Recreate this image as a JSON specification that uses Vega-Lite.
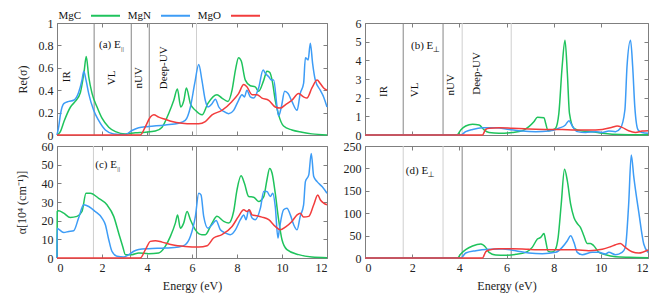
{
  "$schema": "https://vega.github.io/schema/vega-lite/v6.json",
  "padding": {"left": 14, "top": 0, "right": 2, "bottom": 2},
  "background": "white",
  "datasets": {
    "curves": [
      {"p":"a","m":"MgC","E":0,"v":0},{"p":"a","m":"MgC","E":0.15,"v":0.03},{"p":"a","m":"MgC","E":0.31,"v":0.12},{"p":"a","m":"MgC","E":0.6,"v":0.25},{"p":"a","m":"MgC","E":0.81,"v":0.3},{"p":"a","m":"MgC","E":1.04,"v":0.38},{"p":"a","m":"MgC","E":1.2,"v":0.56},{"p":"a","m":"MgC","E":1.3,"v":0.7},{"p":"a","m":"MgC","E":1.41,"v":0.52},{"p":"a","m":"MgC","E":1.56,"v":0.37},{"p":"a","m":"MgC","E":1.78,"v":0.25},{"p":"a","m":"MgC","E":2.0,"v":0.15},{"p":"a","m":"MgC","E":2.3,"v":0.07},{"p":"a","m":"MgC","E":2.6,"v":0.03},{"p":"a","m":"MgC","E":3.04,"v":0.01},{"p":"a","m":"MgC","E":3.48,"v":0.02},{"p":"a","m":"MgC","E":3.93,"v":0.025},{"p":"a","m":"MgC","E":4.37,"v":0.035},{"p":"a","m":"MgC","E":4.67,"v":0.07},{"p":"a","m":"MgC","E":4.96,"v":0.19},{"p":"a","m":"MgC","E":5.19,"v":0.31},{"p":"a","m":"MgC","E":5.35,"v":0.41},{"p":"a","m":"MgC","E":5.5,"v":0.25},{"p":"a","m":"MgC","E":5.64,"v":0.31},{"p":"a","m":"MgC","E":5.75,"v":0.42},{"p":"a","m":"MgC","E":5.93,"v":0.28},{"p":"a","m":"MgC","E":6.15,"v":0.22},{"p":"a","m":"MgC","E":6.45,"v":0.18},{"p":"a","m":"MgC","E":6.7,"v":0.28},{"p":"a","m":"MgC","E":7.11,"v":0.36},{"p":"a","m":"MgC","E":7.33,"v":0.33},{"p":"a","m":"MgC","E":7.6,"v":0.3},{"p":"a","m":"MgC","E":7.78,"v":0.4},{"p":"a","m":"MgC","E":7.93,"v":0.58},{"p":"a","m":"MgC","E":8.07,"v":0.69},{"p":"a","m":"MgC","E":8.19,"v":0.66},{"p":"a","m":"MgC","E":8.37,"v":0.49},{"p":"a","m":"MgC","E":8.59,"v":0.44},{"p":"a","m":"MgC","E":8.81,"v":0.43},{"p":"a","m":"MgC","E":8.96,"v":0.39},{"p":"a","m":"MgC","E":9.19,"v":0.49},{"p":"a","m":"MgC","E":9.33,"v":0.57},{"p":"a","m":"MgC","E":9.45,"v":0.56},{"p":"a","m":"MgC","E":9.56,"v":0.49},{"p":"a","m":"MgC","E":9.7,"v":0.31},{"p":"a","m":"MgC","E":9.85,"v":0.18},{"p":"a","m":"MgC","E":10.07,"v":0.08},{"p":"a","m":"MgC","E":10.44,"v":0.045},{"p":"a","m":"MgC","E":10.89,"v":0.025},{"p":"a","m":"MgC","E":11.33,"v":0.01},{"p":"a","m":"MgC","E":12,"v":0.0},
      {"p":"a","m":"MgN","E":0,"v":0},{"p":"a","m":"MgN","E":0.08,"v":0.08},{"p":"a","m":"MgN","E":0.15,"v":0.18},{"p":"a","m":"MgN","E":0.3,"v":0.28},{"p":"a","m":"MgN","E":0.52,"v":0.3},{"p":"a","m":"MgN","E":0.74,"v":0.31},{"p":"a","m":"MgN","E":0.96,"v":0.38},{"p":"a","m":"MgN","E":1.11,"v":0.49},{"p":"a","m":"MgN","E":1.19,"v":0.57},{"p":"a","m":"MgN","E":1.29,"v":0.49},{"p":"a","m":"MgN","E":1.41,"v":0.37},{"p":"a","m":"MgN","E":1.63,"v":0.22},{"p":"a","m":"MgN","E":1.85,"v":0.13},{"p":"a","m":"MgN","E":2.15,"v":0.045},{"p":"a","m":"MgN","E":2.52,"v":0.01},{"p":"a","m":"MgN","E":3.04,"v":0.005},{"p":"a","m":"MgN","E":3.33,"v":0.04},{"p":"a","m":"MgN","E":3.63,"v":0.065},{"p":"a","m":"MgN","E":4.07,"v":0.075},{"p":"a","m":"MgN","E":4.81,"v":0.09},{"p":"a","m":"MgN","E":5.41,"v":0.105},{"p":"a","m":"MgN","E":5.7,"v":0.13},{"p":"a","m":"MgN","E":5.93,"v":0.25},{"p":"a","m":"MgN","E":6.12,"v":0.46},{"p":"a","m":"MgN","E":6.3,"v":0.63},{"p":"a","m":"MgN","E":6.44,"v":0.49},{"p":"a","m":"MgN","E":6.59,"v":0.31},{"p":"a","m":"MgN","E":6.71,"v":0.25},{"p":"a","m":"MgN","E":6.89,"v":0.28},{"p":"a","m":"MgN","E":7.04,"v":0.32},{"p":"a","m":"MgN","E":7.19,"v":0.25},{"p":"a","m":"MgN","E":7.41,"v":0.21},{"p":"a","m":"MgN","E":7.63,"v":0.19},{"p":"a","m":"MgN","E":7.85,"v":0.22},{"p":"a","m":"MgN","E":8.07,"v":0.31},{"p":"a","m":"MgN","E":8.22,"v":0.36},{"p":"a","m":"MgN","E":8.33,"v":0.34},{"p":"a","m":"MgN","E":8.44,"v":0.4},{"p":"a","m":"MgN","E":8.59,"v":0.34},{"p":"a","m":"MgN","E":8.74,"v":0.33},{"p":"a","m":"MgN","E":8.96,"v":0.42},{"p":"a","m":"MgN","E":9.16,"v":0.58},{"p":"a","m":"MgN","E":9.26,"v":0.55},{"p":"a","m":"MgN","E":9.41,"v":0.52},{"p":"a","m":"MgN","E":9.53,"v":0.49},{"p":"a","m":"MgN","E":9.63,"v":0.49},{"p":"a","m":"MgN","E":9.78,"v":0.25},{"p":"a","m":"MgN","E":9.85,"v":0.17},{"p":"a","m":"MgN","E":9.97,"v":0.25},{"p":"a","m":"MgN","E":10.12,"v":0.39},{"p":"a","m":"MgN","E":10.27,"v":0.37},{"p":"a","m":"MgN","E":10.44,"v":0.3},{"p":"a","m":"MgN","E":10.67,"v":0.22},{"p":"a","m":"MgN","E":10.81,"v":0.37},{"p":"a","m":"MgN","E":10.96,"v":0.46},{"p":"a","m":"MgN","E":11.04,"v":0.69},{"p":"a","m":"MgN","E":11.16,"v":0.67},{"p":"a","m":"MgN","E":11.26,"v":0.82},{"p":"a","m":"MgN","E":11.36,"v":0.64},{"p":"a","m":"MgN","E":11.48,"v":0.49},{"p":"a","m":"MgN","E":11.7,"v":0.4},{"p":"a","m":"MgN","E":11.85,"v":0.34},{"p":"a","m":"MgN","E":12,"v":0.25},
      {"p":"a","m":"MgO","E":0,"v":0},{"p":"a","m":"MgO","E":3.7,"v":0},{"p":"a","m":"MgO","E":3.93,"v":0.075},{"p":"a","m":"MgO","E":4.15,"v":0.16},{"p":"a","m":"MgO","E":4.3,"v":0.18},{"p":"a","m":"MgO","E":4.52,"v":0.16},{"p":"a","m":"MgO","E":4.81,"v":0.14},{"p":"a","m":"MgO","E":5.11,"v":0.12},{"p":"a","m":"MgO","E":5.56,"v":0.105},{"p":"a","m":"MgO","E":6.0,"v":0.1},{"p":"a","m":"MgO","E":6.3,"v":0.1},{"p":"a","m":"MgO","E":6.59,"v":0.12},{"p":"a","m":"MgO","E":6.89,"v":0.18},{"p":"a","m":"MgO","E":7.33,"v":0.22},{"p":"a","m":"MgO","E":7.78,"v":0.3},{"p":"a","m":"MgO","E":8.07,"v":0.37},{"p":"a","m":"MgO","E":8.3,"v":0.45},{"p":"a","m":"MgO","E":8.44,"v":0.43},{"p":"a","m":"MgO","E":8.67,"v":0.36},{"p":"a","m":"MgO","E":8.89,"v":0.36},{"p":"a","m":"MgO","E":9.11,"v":0.33},{"p":"a","m":"MgO","E":9.41,"v":0.31},{"p":"a","m":"MgO","E":9.7,"v":0.25},{"p":"a","m":"MgO","E":9.93,"v":0.24},{"p":"a","m":"MgO","E":10.15,"v":0.27},{"p":"a","m":"MgO","E":10.44,"v":0.31},{"p":"a","m":"MgO","E":10.74,"v":0.37},{"p":"a","m":"MgO","E":10.96,"v":0.34},{"p":"a","m":"MgO","E":11.11,"v":0.33},{"p":"a","m":"MgO","E":11.33,"v":0.42},{"p":"a","m":"MgO","E":11.56,"v":0.49},{"p":"a","m":"MgO","E":11.7,"v":0.46},{"p":"a","m":"MgO","E":11.85,"v":0.42},{"p":"a","m":"MgO","E":12,"v":0.4},

      {"p":"b","m":"MgC","E":0,"v":0},{"p":"b","m":"MgC","E":3.9,"v":0},{"p":"b","m":"MgC","E":4.06,"v":0.27},{"p":"b","m":"MgC","E":4.27,"v":0.48},{"p":"b","m":"MgC","E":4.56,"v":0.57},{"p":"b","m":"MgC","E":4.84,"v":0.54},{"p":"b","m":"MgC","E":5.05,"v":0.27},{"p":"b","m":"MgC","E":5.26,"v":0.13},{"p":"b","m":"MgC","E":5.68,"v":0.09},{"p":"b","m":"MgC","E":6.25,"v":0.14},{"p":"b","m":"MgC","E":6.67,"v":0.23},{"p":"b","m":"MgC","E":6.95,"v":0.45},{"p":"b","m":"MgC","E":7.17,"v":0.72},{"p":"b","m":"MgC","E":7.31,"v":0.95},{"p":"b","m":"MgC","E":7.59,"v":0.93},{"p":"b","m":"MgC","E":7.66,"v":0.63},{"p":"b","m":"MgC","E":7.76,"v":0.23},{"p":"b","m":"MgC","E":7.94,"v":0.27},{"p":"b","m":"MgC","E":8.08,"v":0.36},{"p":"b","m":"MgC","E":8.22,"v":1.16},{"p":"b","m":"MgC","E":8.36,"v":3.67},{"p":"b","m":"MgC","E":8.48,"v":5.07},{"p":"b","m":"MgC","E":8.58,"v":3.31},{"p":"b","m":"MgC","E":8.67,"v":1.16},{"p":"b","m":"MgC","E":8.86,"v":0.36},{"p":"b","m":"MgC","E":9.21,"v":0.21},{"p":"b","m":"MgC","E":9.63,"v":0.18},{"p":"b","m":"MgC","E":10.06,"v":0.09},{"p":"b","m":"MgC","E":10.48,"v":0.04},{"p":"b","m":"MgC","E":11.18,"v":0.02},{"p":"b","m":"MgC","E":12,"v":0.02},
      {"p":"b","m":"MgN","E":0,"v":0},{"p":"b","m":"MgN","E":4.06,"v":0},{"p":"b","m":"MgN","E":4.27,"v":0.18},{"p":"b","m":"MgN","E":4.56,"v":0.3},{"p":"b","m":"MgN","E":4.98,"v":0.39},{"p":"b","m":"MgN","E":5.54,"v":0.39},{"p":"b","m":"MgN","E":6.11,"v":0.3},{"p":"b","m":"MgN","E":6.67,"v":0.21},{"p":"b","m":"MgN","E":7.24,"v":0.18},{"p":"b","m":"MgN","E":7.8,"v":0.21},{"p":"b","m":"MgN","E":8.22,"v":0.36},{"p":"b","m":"MgN","E":8.5,"v":0.54},{"p":"b","m":"MgN","E":8.65,"v":0.77},{"p":"b","m":"MgN","E":8.79,"v":0.48},{"p":"b","m":"MgN","E":9.0,"v":0.18},{"p":"b","m":"MgN","E":9.35,"v":0.13},{"p":"b","m":"MgN","E":9.77,"v":0.18},{"p":"b","m":"MgN","E":10.06,"v":0.13},{"p":"b","m":"MgN","E":10.34,"v":0.21},{"p":"b","m":"MgN","E":10.62,"v":0.18},{"p":"b","m":"MgN","E":10.83,"v":0.36},{"p":"b","m":"MgN","E":11.02,"v":1.34},{"p":"b","m":"MgN","E":11.11,"v":3.67},{"p":"b","m":"MgN","E":11.26,"v":5.07},{"p":"b","m":"MgN","E":11.35,"v":3.67},{"p":"b","m":"MgN","E":11.44,"v":1.52},{"p":"b","m":"MgN","E":11.58,"v":0.27},{"p":"b","m":"MgN","E":11.75,"v":0.13},{"p":"b","m":"MgN","E":12,"v":0.09},
      {"p":"b","m":"MgO","E":0,"v":0},{"p":"b","m":"MgO","E":4.98,"v":0},{"p":"b","m":"MgO","E":5.12,"v":0.3},{"p":"b","m":"MgO","E":5.26,"v":0.36},{"p":"b","m":"MgO","E":5.68,"v":0.39},{"p":"b","m":"MgO","E":6.25,"v":0.36},{"p":"b","m":"MgO","E":6.95,"v":0.32},{"p":"b","m":"MgO","E":7.66,"v":0.3},{"p":"b","m":"MgO","E":8.36,"v":0.29},{"p":"b","m":"MgO","E":8.93,"v":0.27},{"p":"b","m":"MgO","E":9.49,"v":0.27},{"p":"b","m":"MgO","E":10.06,"v":0.3},{"p":"b","m":"MgO","E":10.48,"v":0.41},{"p":"b","m":"MgO","E":10.69,"v":0.48},{"p":"b","m":"MgO","E":10.9,"v":0.41},{"p":"b","m":"MgO","E":11.18,"v":0.23},{"p":"b","m":"MgO","E":11.47,"v":0.14},{"p":"b","m":"MgO","E":11.75,"v":0.21},{"p":"b","m":"MgO","E":12,"v":0.23},

      {"p":"c","m":"MgC","E":0,"v":0},{"p":"c","m":"MgC","E":0.01,"v":24.9},{"p":"c","m":"MgC","E":0.07,"v":25.3},{"p":"c","m":"MgC","E":0.3,"v":24},{"p":"c","m":"MgC","E":0.59,"v":21.7},{"p":"c","m":"MgC","E":0.89,"v":22.3},{"p":"c","m":"MgC","E":1.11,"v":24.9},{"p":"c","m":"MgC","E":1.29,"v":34.7},{"p":"c","m":"MgC","E":1.48,"v":34.7},{"p":"c","m":"MgC","E":1.85,"v":32},{"p":"c","m":"MgC","E":2.22,"v":28.5},{"p":"c","m":"MgC","E":2.52,"v":22.3},{"p":"c","m":"MgC","E":2.74,"v":13.4},{"p":"c","m":"MgC","E":2.92,"v":6.2},{"p":"c","m":"MgC","E":3.04,"v":1.8},{"p":"c","m":"MgC","E":3.33,"v":1.8},{"p":"c","m":"MgC","E":3.63,"v":2.7},{"p":"c","m":"MgC","E":4.07,"v":2.3},{"p":"c","m":"MgC","E":4.52,"v":2.7},{"p":"c","m":"MgC","E":4.81,"v":6.2},{"p":"c","m":"MgC","E":5.04,"v":11.6},{"p":"c","m":"MgC","E":5.26,"v":18.7},{"p":"c","m":"MgC","E":5.36,"v":23.1},{"p":"c","m":"MgC","E":5.48,"v":16},{"p":"c","m":"MgC","E":5.63,"v":18.7},{"p":"c","m":"MgC","E":5.78,"v":24.9},{"p":"c","m":"MgC","E":5.93,"v":20.5},{"p":"c","m":"MgC","E":6.15,"v":15.1},{"p":"c","m":"MgC","E":6.44,"v":12.5},{"p":"c","m":"MgC","E":6.59,"v":12.5},{"p":"c","m":"MgC","E":6.89,"v":18.7},{"p":"c","m":"MgC","E":7.11,"v":22.3},{"p":"c","m":"MgC","E":7.41,"v":19.6},{"p":"c","m":"MgC","E":7.63,"v":18.7},{"p":"c","m":"MgC","E":7.85,"v":24.9},{"p":"c","m":"MgC","E":8.0,"v":36.5},{"p":"c","m":"MgC","E":8.18,"v":44},{"p":"c","m":"MgC","E":8.33,"v":40},{"p":"c","m":"MgC","E":8.52,"v":32.9},{"p":"c","m":"MgC","E":8.74,"v":32.6},{"p":"c","m":"MgC","E":8.96,"v":30.3},{"p":"c","m":"MgC","E":9.19,"v":32.9},{"p":"c","m":"MgC","E":9.33,"v":41.8},{"p":"c","m":"MgC","E":9.45,"v":48},{"p":"c","m":"MgC","E":9.56,"v":45.4},{"p":"c","m":"MgC","E":9.7,"v":34.7},{"p":"c","m":"MgC","E":9.85,"v":20.5},{"p":"c","m":"MgC","E":10.0,"v":9.8},{"p":"c","m":"MgC","E":10.22,"v":4.5},{"p":"c","m":"MgC","E":10.74,"v":1.8},{"p":"c","m":"MgC","E":11.33,"v":0.5},{"p":"c","m":"MgC","E":12,"v":0.2},
      {"p":"c","m":"MgN","E":0,"v":0},{"p":"c","m":"MgN","E":0.01,"v":16},{"p":"c","m":"MgN","E":0.07,"v":15.5},{"p":"c","m":"MgN","E":0.3,"v":13.7},{"p":"c","m":"MgN","E":0.52,"v":14.2},{"p":"c","m":"MgN","E":0.74,"v":14.6},{"p":"c","m":"MgN","E":0.96,"v":21.4},{"p":"c","m":"MgN","E":1.19,"v":28.5},{"p":"c","m":"MgN","E":1.41,"v":27.6},{"p":"c","m":"MgN","E":1.7,"v":24.9},{"p":"c","m":"MgN","E":2.0,"v":21.4},{"p":"c","m":"MgN","E":2.15,"v":17.8},{"p":"c","m":"MgN","E":2.3,"v":9.8},{"p":"c","m":"MgN","E":2.44,"v":3.6},{"p":"c","m":"MgN","E":2.67,"v":0.9},{"p":"c","m":"MgN","E":2.96,"v":0.5},{"p":"c","m":"MgN","E":3.19,"v":1.8},{"p":"c","m":"MgN","E":3.41,"v":3.6},{"p":"c","m":"MgN","E":3.63,"v":4.5},{"p":"c","m":"MgN","E":4.07,"v":5.0},{"p":"c","m":"MgN","E":4.81,"v":5.3},{"p":"c","m":"MgN","E":5.41,"v":5.9},{"p":"c","m":"MgN","E":5.7,"v":7.1},{"p":"c","m":"MgN","E":5.93,"v":11.6},{"p":"c","m":"MgN","E":6.15,"v":22.3},{"p":"c","m":"MgN","E":6.3,"v":34.7},{"p":"c","m":"MgN","E":6.4,"v":33.8},{"p":"c","m":"MgN","E":6.52,"v":22.3},{"p":"c","m":"MgN","E":6.71,"v":16},{"p":"c","m":"MgN","E":6.89,"v":17.8},{"p":"c","m":"MgN","E":7.07,"v":20.1},{"p":"c","m":"MgN","E":7.26,"v":15.1},{"p":"c","m":"MgN","E":7.48,"v":13.4},{"p":"c","m":"MgN","E":7.7,"v":12.5},{"p":"c","m":"MgN","E":7.93,"v":15.1},{"p":"c","m":"MgN","E":8.15,"v":20.5},{"p":"c","m":"MgN","E":8.3,"v":23.1},{"p":"c","m":"MgN","E":8.4,"v":20.5},{"p":"c","m":"MgN","E":8.52,"v":25.8},{"p":"c","m":"MgN","E":8.67,"v":21.4},{"p":"c","m":"MgN","E":8.81,"v":20.5},{"p":"c","m":"MgN","E":9.04,"v":26.7},{"p":"c","m":"MgN","E":9.19,"v":35.6},{"p":"c","m":"MgN","E":9.33,"v":35.6},{"p":"c","m":"MgN","E":9.48,"v":32.9},{"p":"c","m":"MgN","E":9.59,"v":34.7},{"p":"c","m":"MgN","E":9.7,"v":27.6},{"p":"c","m":"MgN","E":9.82,"v":10.7},{"p":"c","m":"MgN","E":9.89,"v":16},{"p":"c","m":"MgN","E":10.07,"v":25.8},{"p":"c","m":"MgN","E":10.22,"v":26.7},{"p":"c","m":"MgN","E":10.37,"v":23.1},{"p":"c","m":"MgN","E":10.52,"v":17.8},{"p":"c","m":"MgN","E":10.67,"v":15.1},{"p":"c","m":"MgN","E":10.81,"v":22.3},{"p":"c","m":"MgN","E":10.96,"v":28.5},{"p":"c","m":"MgN","E":11.04,"v":40.9},{"p":"c","m":"MgN","E":11.19,"v":44.5},{"p":"c","m":"MgN","E":11.3,"v":56},{"p":"c","m":"MgN","E":11.41,"v":43.6},{"p":"c","m":"MgN","E":11.56,"v":40.9},{"p":"c","m":"MgN","E":11.78,"v":38.3},{"p":"c","m":"MgN","E":12,"v":34.7},
      {"p":"c","m":"MgO","E":0,"v":0},{"p":"c","m":"MgO","E":3.7,"v":0},{"p":"c","m":"MgO","E":3.93,"v":4.5},{"p":"c","m":"MgO","E":4.15,"v":8.9},{"p":"c","m":"MgO","E":4.37,"v":9.3},{"p":"c","m":"MgO","E":4.67,"v":8.5},{"p":"c","m":"MgO","E":5.11,"v":7.1},{"p":"c","m":"MgO","E":5.7,"v":6.2},{"p":"c","m":"MgO","E":6.3,"v":5.9},{"p":"c","m":"MgO","E":6.67,"v":6.6},{"p":"c","m":"MgO","E":6.96,"v":10.7},{"p":"c","m":"MgO","E":7.33,"v":12.5},{"p":"c","m":"MgO","E":7.78,"v":16.9},{"p":"c","m":"MgO","E":8.07,"v":22.3},{"p":"c","m":"MgO","E":8.3,"v":25.8},{"p":"c","m":"MgO","E":8.44,"v":24.9},{"p":"c","m":"MgO","E":8.55,"v":25.8},{"p":"c","m":"MgO","E":8.67,"v":23.1},{"p":"c","m":"MgO","E":8.89,"v":22.6},{"p":"c","m":"MgO","E":9.11,"v":21.9},{"p":"c","m":"MgO","E":9.41,"v":20.5},{"p":"c","m":"MgO","E":9.7,"v":16.9},{"p":"c","m":"MgO","E":9.93,"v":15.1},{"p":"c","m":"MgO","E":10.15,"v":16.6},{"p":"c","m":"MgO","E":10.44,"v":19.6},{"p":"c","m":"MgO","E":10.67,"v":23.1},{"p":"c","m":"MgO","E":10.81,"v":24},{"p":"c","m":"MgO","E":10.96,"v":21.9},{"p":"c","m":"MgO","E":11.19,"v":22.3},{"p":"c","m":"MgO","E":11.41,"v":28.5},{"p":"c","m":"MgO","E":11.59,"v":33.8},{"p":"c","m":"MgO","E":11.7,"v":31.2},{"p":"c","m":"MgO","E":11.85,"v":29.4},{"p":"c","m":"MgO","E":12,"v":28.5},

      {"p":"d","m":"MgC","E":0,"v":0},{"p":"d","m":"MgC","E":3.92,"v":0},{"p":"d","m":"MgC","E":4.06,"v":8.9},{"p":"d","m":"MgC","E":4.27,"v":18.5},{"p":"d","m":"MgC","E":4.56,"v":26.7},{"p":"d","m":"MgC","E":4.91,"v":31.2},{"p":"d","m":"MgC","E":5.12,"v":23.7},{"p":"d","m":"MgC","E":5.26,"v":12.6},{"p":"d","m":"MgC","E":5.54,"v":6.7},{"p":"d","m":"MgC","E":5.97,"v":5.9},{"p":"d","m":"MgC","E":6.39,"v":8.2},{"p":"d","m":"MgC","E":6.81,"v":12.6},{"p":"d","m":"MgC","E":7.09,"v":23.7},{"p":"d","m":"MgC","E":7.31,"v":42.3},{"p":"d","m":"MgC","E":7.45,"v":46},{"p":"d","m":"MgC","E":7.59,"v":54.9},{"p":"d","m":"MgC","E":7.66,"v":38.6},{"p":"d","m":"MgC","E":7.77,"v":14.8},{"p":"d","m":"MgC","E":7.94,"v":13.4},{"p":"d","m":"MgC","E":8.08,"v":20},{"p":"d","m":"MgC","E":8.19,"v":46},{"p":"d","m":"MgC","E":8.32,"v":120},{"p":"d","m":"MgC","E":8.46,"v":198},{"p":"d","m":"MgC","E":8.58,"v":172},{"p":"d","m":"MgC","E":8.72,"v":120},{"p":"d","m":"MgC","E":8.86,"v":90.5},{"p":"d","m":"MgC","E":9.0,"v":77},{"p":"d","m":"MgC","E":9.14,"v":68},{"p":"d","m":"MgC","E":9.28,"v":49.7},{"p":"d","m":"MgC","E":9.42,"v":32.6},{"p":"d","m":"MgC","E":9.56,"v":32.6},{"p":"d","m":"MgC","E":9.7,"v":27.4},{"p":"d","m":"MgC","E":9.92,"v":12.6},{"p":"d","m":"MgC","E":10.2,"v":7.4},{"p":"d","m":"MgC","E":10.62,"v":3},{"p":"d","m":"MgC","E":11.18,"v":1.5},{"p":"d","m":"MgC","E":12,"v":0.7},
      {"p":"d","m":"MgN","E":0,"v":0},{"p":"d","m":"MgN","E":4.06,"v":0},{"p":"d","m":"MgN","E":4.27,"v":11.1},{"p":"d","m":"MgN","E":4.7,"v":16.3},{"p":"d","m":"MgN","E":5.26,"v":19.3},{"p":"d","m":"MgN","E":5.82,"v":20},{"p":"d","m":"MgN","E":6.39,"v":16.3},{"p":"d","m":"MgN","E":6.95,"v":11.1},{"p":"d","m":"MgN","E":7.52,"v":9.6},{"p":"d","m":"MgN","E":8.08,"v":12.6},{"p":"d","m":"MgN","E":8.36,"v":23.7},{"p":"d","m":"MgN","E":8.58,"v":38.6},{"p":"d","m":"MgN","E":8.72,"v":49.7},{"p":"d","m":"MgN","E":8.86,"v":34.9},{"p":"d","m":"MgN","E":9.0,"v":12.6},{"p":"d","m":"MgN","E":9.21,"v":7.4},{"p":"d","m":"MgN","E":9.63,"v":12.6},{"p":"d","m":"MgN","E":9.92,"v":12.6},{"p":"d","m":"MgN","E":10.2,"v":8.9},{"p":"d","m":"MgN","E":10.34,"v":12.6},{"p":"d","m":"MgN","E":10.62,"v":7.4},{"p":"d","m":"MgN","E":10.9,"v":12.6},{"p":"d","m":"MgN","E":11.04,"v":23.7},{"p":"d","m":"MgN","E":11.18,"v":120},{"p":"d","m":"MgN","E":11.29,"v":230},{"p":"d","m":"MgN","E":11.4,"v":180},{"p":"d","m":"MgN","E":11.61,"v":101.7},{"p":"d","m":"MgN","E":11.82,"v":31.2},{"p":"d","m":"MgN","E":12,"v":12.6},
      {"p":"d","m":"MgO","E":0,"v":0},{"p":"d","m":"MgO","E":4.98,"v":0},{"p":"d","m":"MgO","E":5.12,"v":14},{"p":"d","m":"MgO","E":5.26,"v":17.8},{"p":"d","m":"MgO","E":5.68,"v":20.8},{"p":"d","m":"MgO","E":6.25,"v":20.8},{"p":"d","m":"MgO","E":6.95,"v":19.3},{"p":"d","m":"MgO","E":7.66,"v":18.5},{"p":"d","m":"MgO","E":8.36,"v":18.5},{"p":"d","m":"MgO","E":8.93,"v":18.5},{"p":"d","m":"MgO","E":9.49,"v":16.3},{"p":"d","m":"MgO","E":10.06,"v":19.3},{"p":"d","m":"MgO","E":10.41,"v":25.2},{"p":"d","m":"MgO","E":10.62,"v":29.7},{"p":"d","m":"MgO","E":10.83,"v":32.6},{"p":"d","m":"MgO","E":11.04,"v":23.7},{"p":"d","m":"MgO","E":11.32,"v":14},{"p":"d","m":"MgO","E":11.61,"v":11.1},{"p":"d","m":"MgO","E":12,"v":17.8}
    ],
    "vlines": [
      {"p":"a","E":1.65,"k":"dark"},{"p":"a","E":3.3,"k":"dark"},{"p":"a","E":4.1,"k":"dark"},{"p":"a","E":6.2,"k":"light"},
      {"p":"b","E":1.62,"k":"dark"},{"p":"b","E":3.31,"k":"dark"},{"p":"b","E":4.12,"k":"light"},{"p":"b","E":6.2,"k":"light"},
      {"p":"c","E":1.62,"k":"light"},{"p":"c","E":3.27,"k":"dark"},{"p":"c","E":6.2,"k":"dark"},
      {"p":"d","E":1.62,"k":"light"},{"p":"d","E":3.31,"k":"light"},{"p":"d","E":4.12,"k":"dark"},{"p":"d","E":6.2,"k":"dark"}
    ],
    "regions": [
      {"p":"a","t":"IR","E":0.46,"v":0.52},{"p":"a","t":"VL","E":2.44,"v":0.51},{"p":"a","t":"nUV","E":3.66,"v":0.51},{"p":"a","t":"Deep-UV","E":4.75,"v":0.6},
      {"p":"b","t":"IR","E":0.82,"v":2.33},{"p":"b","t":"VL","E":2.13,"v":2.42},{"p":"b","t":"nUV","E":3.64,"v":2.69},{"p":"b","t":"Deep-UV","E":4.77,"v":3.3}
    ],
    "plabels": [
      {"p":"a","t":"(a) E","s":"||","E":1.87,"v":0.8},
      {"p":"b","t":"(b) E","s":"⊥","E":1.95,"v":4.75},
      {"p":"c","t":"(c) E","s":"||","E":1.7,"v":49.8},
      {"p":"d","t":"(d) E","s":"⊥","E":1.73,"v":194}
    ]
  },
  "columns": 2,
  "bounds": "flush",
  "spacing": {"row": 11, "column": 38},
  "resolve": {"scale": {"color": "shared", "stroke": "shared", "x": "independent", "y": "independent"}},
  "concat": [
    {
      "width": 270, "height": 112,
      "resolve": {"axis": {"x": "independent", "y": "independent"}},
      "layer": [
        {"data": {"name": "vlines"}, "transform": [{"filter": "datum.p == 'a'"}], "mark": {"type": "rule", "strokeWidth": 1},
         "encoding": {"x": {"field": "E", "type": "quantitative", "scale": {"domain": [0, 12], "nice": false}, "axis": null},
                      "stroke": {"field": "k", "type": "nominal", "scale": {"domain": ["dark", "light"], "range": ["#858585", "#cfcfcf"]}, "legend": null}}},
        {"data": {"name": "curves"}, "transform": [{"filter": "datum.p == 'a'"}], "mark": {"type": "line", "strokeWidth": 1.5, "interpolate": "monotone"},
         "encoding": {"x": {"field": "E", "type": "quantitative", "scale": {"domain": [0, 12], "nice": false}, "axis": {"orient": "bottom", "values": [0,2,4,6,8,10,12], "labels": false, "title": null}},
                      "y": {"field": "v", "type": "quantitative", "scale": {"domain": [0, 1], "nice": false}, "axis": {"orient": "left", "values": [0,0.2,0.4,0.6,0.8,1], "format": "~g", "title": "Re(σ)", "titlePadding": 9}},
                      "color": {"field": "m", "type": "nominal", "scale": {"domain": ["MgC", "MgN", "MgO"], "range": ["#1fc35c", "#3d9cf6", "#f23c3c"]},
                                "legend": {"orient": "none", "legendX": 33, "legendY": -23, "direction": "horizontal", "title": null, "symbolType": "stroke", "symbolSize": 841, "symbolStrokeWidth": 2, "labelAlign": "right", "labelOffset": -40, "columnPadding": 3, "labelFontSize": 11, "labelFont": "Liberation Serif", "labelColor": "#111", "padding": 0}}}},
        {"data": {"name": "regions"}, "transform": [{"filter": "datum.p == 'a'"}], "mark": {"type": "text", "angle": 270, "align": "center", "baseline": "middle", "fontSize": 11, "font": "Liberation Serif", "color": "#111"},
         "encoding": {"x": {"field": "E", "type": "quantitative", "axis": null}, "y": {"field": "v", "type": "quantitative", "axis": null}, "text": {"field": "t"}}},
        {"data": {"name": "plabels"}, "transform": [{"filter": "datum.p == 'a'"}], "mark": {"type": "text", "align": "left", "baseline": "middle", "fontSize": 11, "font": "Liberation Serif", "color": "#111"},
         "encoding": {"x": {"field": "E", "type": "quantitative", "axis": {"orient": "top", "values": [0,2,4,6,8,10,12], "labels": false, "title": null}},
                      "y": {"field": "v", "type": "quantitative", "axis": {"orient": "right", "values": [0,0.2,0.4,0.6,0.8,1], "labels": false, "title": null}}, "text": {"field": "t"}}},
        {"data": {"name": "plabels"}, "transform": [{"filter": "datum.p == 'a'"}], "mark": {"type": "text", "align": "left", "baseline": "middle", "fontSize": 7, "font": "Liberation Serif", "color": "#111", "dx": 22, "dy": 4},
         "encoding": {"x": {"field": "E", "type": "quantitative", "axis": null}, "y": {"field": "v", "type": "quantitative", "axis": null}, "text": {"field": "s"}}}
      ]
    },
    {
      "width": 283, "height": 112,
      "resolve": {"axis": {"x": "independent", "y": "independent"}},
      "layer": [
        {"data": {"name": "vlines"}, "transform": [{"filter": "datum.p == 'b'"}], "mark": {"type": "rule", "strokeWidth": 1},
         "encoding": {"x": {"field": "E", "type": "quantitative", "scale": {"domain": [0, 12], "nice": false}, "axis": null},
                      "stroke": {"field": "k", "type": "nominal", "scale": {"domain": ["dark", "light"], "range": ["#858585", "#cfcfcf"]}, "legend": null}}},
        {"data": {"name": "curves"}, "transform": [{"filter": "datum.p == 'b'"}], "mark": {"type": "line", "strokeWidth": 1.5, "interpolate": "monotone"},
         "encoding": {"x": {"field": "E", "type": "quantitative", "scale": {"domain": [0, 12], "nice": false}, "axis": {"orient": "bottom", "values": [0,2,4,6,8,10,12], "labels": false, "title": null}},
                      "y": {"field": "v", "type": "quantitative", "scale": {"domain": [0, 6], "nice": false}, "axis": {"orient": "left", "values": [0,1,2,3,4,5,6], "format": "~g", "title": null}},
                      "color": {"field": "m", "type": "nominal", "scale": {"domain": ["MgC", "MgN", "MgO"], "range": ["#1fc35c", "#3d9cf6", "#f23c3c"]}, "legend": null}}},
        {"data": {"name": "regions"}, "transform": [{"filter": "datum.p == 'b'"}], "mark": {"type": "text", "angle": 270, "align": "center", "baseline": "middle", "fontSize": 11, "font": "Liberation Serif", "color": "#111"},
         "encoding": {"x": {"field": "E", "type": "quantitative", "axis": null}, "y": {"field": "v", "type": "quantitative", "axis": null}, "text": {"field": "t"}}},
        {"data": {"name": "plabels"}, "transform": [{"filter": "datum.p == 'b'"}], "mark": {"type": "text", "align": "left", "baseline": "middle", "fontSize": 11, "font": "Liberation Serif", "color": "#111"},
         "encoding": {"x": {"field": "E", "type": "quantitative", "axis": {"orient": "top", "values": [0,2,4,6,8,10,12], "labels": false, "title": null}},
                      "y": {"field": "v", "type": "quantitative", "axis": {"orient": "right", "values": [0,1,2,3,4,5,6], "labels": false, "title": null}}, "text": {"field": "t"}}},
        {"data": {"name": "plabels"}, "transform": [{"filter": "datum.p == 'b'"}], "mark": {"type": "text", "align": "left", "baseline": "middle", "fontSize": 8, "font": "DejaVu Sans", "color": "#111", "dx": 22, "dy": 4},
         "encoding": {"x": {"field": "E", "type": "quantitative", "axis": null}, "y": {"field": "v", "type": "quantitative", "axis": null}, "text": {"field": "s"}}}
      ]
    },
    {
      "width": 270, "height": 112,
      "resolve": {"axis": {"x": "independent", "y": "independent"}},
      "layer": [
        {"data": {"name": "vlines"}, "transform": [{"filter": "datum.p == 'c'"}], "mark": {"type": "rule", "strokeWidth": 1},
         "encoding": {"x": {"field": "E", "type": "quantitative", "scale": {"domain": [0, 12], "nice": false}, "axis": null},
                      "stroke": {"field": "k", "type": "nominal", "scale": {"domain": ["dark", "light"], "range": ["#858585", "#cfcfcf"]}, "legend": null}}},
        {"data": {"name": "curves"}, "transform": [{"filter": "datum.p == 'c'"}], "mark": {"type": "line", "strokeWidth": 1.5, "interpolate": "monotone"},
         "encoding": {"x": {"field": "E", "type": "quantitative", "scale": {"domain": [0, 12], "nice": false}, "axis": {"orient": "bottom", "values": [0,2,4,6,8,10,12], "title": "Energy (eV)", "titlePadding": 7}},
                      "y": {"field": "v", "type": "quantitative", "scale": {"domain": [0, 60], "nice": false}, "axis": {"orient": "left", "values": [0,10,20,30,40,50,60], "title": "α[10⁴ (cm⁻¹)]", "titlePadding": 13}},
                      "color": {"field": "m", "type": "nominal", "scale": {"domain": ["MgC", "MgN", "MgO"], "range": ["#1fc35c", "#3d9cf6", "#f23c3c"]}, "legend": null}}},
        {"data": {"name": "plabels"}, "transform": [{"filter": "datum.p == 'c'"}], "mark": {"type": "text", "align": "left", "baseline": "middle", "fontSize": 11, "font": "Liberation Serif", "color": "#111"},
         "encoding": {"x": {"field": "E", "type": "quantitative", "axis": {"orient": "top", "values": [0,2,4,6,8,10,12], "labels": false, "title": null}},
                      "y": {"field": "v", "type": "quantitative", "axis": {"orient": "right", "values": [0,10,20,30,40,50,60], "labels": false, "title": null}}, "text": {"field": "t"}}},
        {"data": {"name": "plabels"}, "transform": [{"filter": "datum.p == 'c'"}], "mark": {"type": "text", "align": "left", "baseline": "middle", "fontSize": 7, "font": "Liberation Serif", "color": "#111", "dx": 22, "dy": 4},
         "encoding": {"x": {"field": "E", "type": "quantitative", "axis": null}, "y": {"field": "v", "type": "quantitative", "axis": null}, "text": {"field": "s"}}}
      ]
    },
    {
      "width": 283, "height": 112,
      "resolve": {"axis": {"x": "independent", "y": "independent"}},
      "layer": [
        {"data": {"name": "vlines"}, "transform": [{"filter": "datum.p == 'd'"}], "mark": {"type": "rule", "strokeWidth": 1},
         "encoding": {"x": {"field": "E", "type": "quantitative", "scale": {"domain": [0, 12], "nice": false}, "axis": null},
                      "stroke": {"field": "k", "type": "nominal", "scale": {"domain": ["dark", "light"], "range": ["#858585", "#cfcfcf"]}, "legend": null}}},
        {"data": {"name": "curves"}, "transform": [{"filter": "datum.p == 'd'"}], "mark": {"type": "line", "strokeWidth": 1.5, "interpolate": "monotone"},
         "encoding": {"x": {"field": "E", "type": "quantitative", "scale": {"domain": [0, 12], "nice": false}, "axis": {"orient": "bottom", "values": [0,2,4,6,8,10,12], "title": "Energy (eV)", "titlePadding": 7}},
                      "y": {"field": "v", "type": "quantitative", "scale": {"domain": [0, 250], "nice": false}, "axis": {"orient": "left", "values": [0,50,100,150,200,250], "title": null}},
                      "color": {"field": "m", "type": "nominal", "scale": {"domain": ["MgC", "MgN", "MgO"], "range": ["#1fc35c", "#3d9cf6", "#f23c3c"]}, "legend": null}}},
        {"data": {"name": "plabels"}, "transform": [{"filter": "datum.p == 'd'"}], "mark": {"type": "text", "align": "left", "baseline": "middle", "fontSize": 11, "font": "Liberation Serif", "color": "#111"},
         "encoding": {"x": {"field": "E", "type": "quantitative", "axis": {"orient": "top", "values": [0,2,4,6,8,10,12], "labels": false, "title": null}},
                      "y": {"field": "v", "type": "quantitative", "axis": {"orient": "right", "values": [0,50,100,150,200,250], "labels": false, "title": null}}, "text": {"field": "t"}}},
        {"data": {"name": "plabels"}, "transform": [{"filter": "datum.p == 'd'"}], "mark": {"type": "text", "align": "left", "baseline": "middle", "fontSize": 8, "font": "DejaVu Sans", "color": "#111", "dx": 22, "dy": 4},
         "encoding": {"x": {"field": "E", "type": "quantitative", "axis": null}, "y": {"field": "v", "type": "quantitative", "axis": null}, "text": {"field": "s"}}}
      ]
    }
  ],
  "config": {
    "font": "Liberation Serif",
    "view": {"stroke": "#7f7f7f", "strokeWidth": 1},
    "axis": {"domain": false, "grid": false, "tickSize": -4, "tickColor": "#7f7f7f", "labelFont": "Liberation Serif", "labelFontSize": 12, "labelColor": "#222", "labelPadding": 8, "titleFont": "Liberation Serif", "titleFontSize": 12, "titleFontWeight": "normal", "titleColor": "#222"},
    "legend": {"labelFont": "Liberation Serif"}
  }
}
